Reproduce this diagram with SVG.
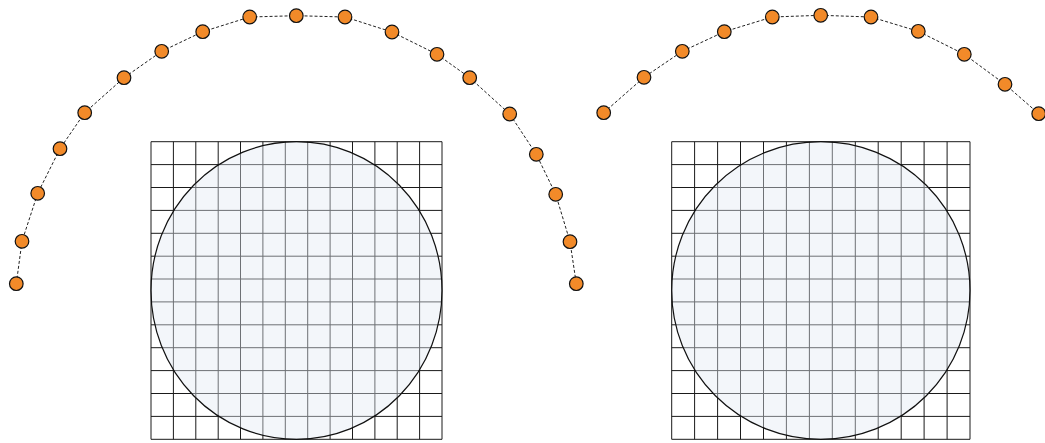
<svg xmlns="http://www.w3.org/2000/svg" width="1045" height="443" viewBox="0 0 1045 443">
<style>
.grid{fill:none;stroke:#1a1a1a;stroke-width:1}
.disc{fill:rgb(226,234,243);fill-opacity:0.42;stroke:#111;stroke-width:1.2}
.arc{fill:none;stroke:#222;stroke-width:1;stroke-dasharray:3 2}
.dot{fill:#f28a29;stroke:#111;stroke-width:1.2}
</style>
<rect width="1045" height="443" fill="#fff"/>
<g id="grid-left">
<path class="grid" d="M151,141.7V439.3M173.4,141.7V439.3M195.8,141.7V439.3M218.2,141.7V439.3M240.5,141.7V439.3M262.9,141.7V439.3M285.3,141.7V439.3M307.7,141.7V439.3M330.1,141.7V439.3M352.5,141.7V439.3M374.9,141.7V439.3M397.2,141.7V439.3M419.6,141.7V439.3M442,141.7V439.3
M151,141.7H442M151,164.6H442M151,187.5H442M151,210.4H442M151,233.3H442M151,256.2H442M151,279H442M151,301.9H442M151,324.8H442M151,347.7H442M151,370.6H442M151,393.5H442M151,416.4H442M151,439.3H442"/>
<ellipse class="disc" cx="296.5" cy="290.5" rx="145.5" ry="148.8"/>
</g>
<g id="grid-right">
<path class="grid" d="M671.7,141.7V439.3M694.6,141.7V439.3M717.6,141.7V439.3M740.5,141.7V439.3M763.5,141.7V439.3M786.4,141.7V439.3M809.4,141.7V439.3M832.3,141.7V439.3M855.3,141.7V439.3M878.2,141.7V439.3M901.2,141.7V439.3M924.1,141.7V439.3M947.1,141.7V439.3M970,141.7V439.3
M671.7,141.7H970M671.7,164.6H970M671.7,187.5H970M671.7,210.4H970M671.7,233.3H970M671.7,256.2H970M671.7,279H970M671.7,301.9H970M671.7,324.8H970M671.7,347.7H970M671.7,370.6H970M671.7,393.5H970M671.7,416.4H970M671.7,439.3H970"/>
<ellipse class="disc" cx="820.85" cy="290.5" rx="149.15" ry="148.8"/>
</g>
<g id="connectors">
<polyline class="arc" points="16.3,283.7 22,241.3 37.7,193.3 60,148.7 84.7,112.7 124,77.7 161.7,51.3 202.7,31.7 249.7,17 296.3,15.7 345,17 392,32 437,54.3 469.7,77.7 509.7,114 536.3,154.3 555.7,194.3 570,241.7 576.3,283.7"/>
<polyline class="arc" points="603.7,112.7 644,77.3 682.3,51.3 724.3,31.7 772.3,17 820.7,15.3 871,17 918.3,31.3 964.3,54.3 1005,84.3 1038.7,113.7"/>
</g>
<g id="dots-left">
<circle class="dot" cx="16.3" cy="283.7" r="6.8"/>
<circle class="dot" cx="22" cy="241.3" r="6.8"/>
<circle class="dot" cx="37.7" cy="193.3" r="6.8"/>
<circle class="dot" cx="60" cy="148.7" r="6.8"/>
<circle class="dot" cx="84.7" cy="112.7" r="6.8"/>
<circle class="dot" cx="124" cy="77.7" r="6.8"/>
<circle class="dot" cx="161.7" cy="51.3" r="6.8"/>
<circle class="dot" cx="202.7" cy="31.7" r="6.8"/>
<circle class="dot" cx="249.7" cy="17" r="6.8"/>
<circle class="dot" cx="296.3" cy="15.7" r="6.8"/>
<circle class="dot" cx="345" cy="17" r="6.8"/>
<circle class="dot" cx="392" cy="32" r="6.8"/>
<circle class="dot" cx="437" cy="54.3" r="6.8"/>
<circle class="dot" cx="469.7" cy="77.7" r="6.8"/>
<circle class="dot" cx="509.7" cy="114" r="6.8"/>
<circle class="dot" cx="536.3" cy="154.3" r="6.8"/>
<circle class="dot" cx="555.7" cy="194.3" r="6.8"/>
<circle class="dot" cx="570" cy="241.7" r="6.8"/>
<circle class="dot" cx="576.3" cy="283.7" r="6.8"/>
</g>
<g id="dots-right">
<circle class="dot" cx="603.7" cy="112.7" r="6.8"/>
<circle class="dot" cx="644" cy="77.3" r="6.8"/>
<circle class="dot" cx="682.3" cy="51.3" r="6.8"/>
<circle class="dot" cx="724.3" cy="31.7" r="6.8"/>
<circle class="dot" cx="772.3" cy="17" r="6.8"/>
<circle class="dot" cx="820.7" cy="15.3" r="6.8"/>
<circle class="dot" cx="871" cy="17" r="6.8"/>
<circle class="dot" cx="918.3" cy="31.3" r="6.8"/>
<circle class="dot" cx="964.3" cy="54.3" r="6.8"/>
<circle class="dot" cx="1005" cy="84.3" r="6.8"/>
<circle class="dot" cx="1038.7" cy="113.7" r="6.8"/>
</g>
</svg>
